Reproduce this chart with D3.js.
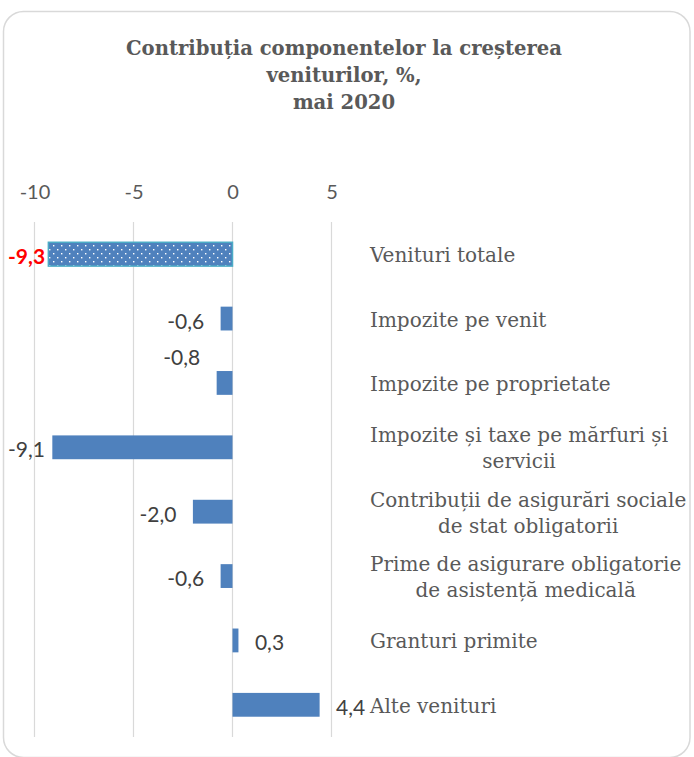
<!DOCTYPE html>
<html>
<head>
<meta charset="utf-8">
<script src="https://cdn.jsdelivr.net/npm/d3@7"></script>
<style>
  html, body { margin: 0; padding: 0; background: #ffffff; }
  svg { display: block; }
</style>
</head>
<body>
<div id="chart"></div>
<script>
// ---- data ----
const titleLines = ["Contribuția componentelor la creșterea", "veniturilor, %,", "mai 2020"];
const categories = [
  ["Venituri totale"],
  ["Impozite pe venit"],
  ["Impozite pe proprietate"],
  ["Impozite și taxe pe mărfuri și", "servicii"],
  ["Contribuții de asigurări sociale", "de stat obligatorii"],
  ["Prime de asigurare obligatorie", "de asistență medicală"],
  ["Granturi primite"],
  ["Alte venituri"]
];
const values = [-9.3, -0.6, -0.8, -9.1, -2.0, -0.6, 0.3, 4.4];
const tickValues = [-10, -5, 0, 5];
const tickLabels = ["-10", "-5", "0", "5"];

// ---- layout ----
const W = 694, H = 757;
const svg = d3.select("#chart").append("svg").attr("width", W).attr("height", H);

const defs = svg.append("defs");
const pat = defs.append("pattern")
  .attr("id", "dots").attr("patternUnits", "userSpaceOnUse")
  .attr("width", 8).attr("height", 8);
pat.append("rect").attr("width", 8).attr("height", 8).attr("fill", "#4f81bd");
pat.append("rect").attr("x", 1).attr("y", 1).attr("width", 1.4).attr("height", 1.4).attr("fill", "#ffffff");
pat.append("rect").attr("x", 5).attr("y", 5).attr("width", 1.4).attr("height", 1.4).attr("fill", "#ffffff");

// chart border
svg.append("rect")
  .attr("x", 3.5).attr("y", 11.5).attr("width", 686.5).attr("height", 746)
  .attr("rx", 20).attr("ry", 20)
  .attr("fill", "#ffffff").attr("stroke", "#d9d9d9").attr("stroke-width", 1.5);

// title
const title = svg.append("text")
  .attr("x", 344).attr("y", 55)
  .attr("text-anchor", "middle")
  .attr("font-family", "'DejaVu Serif', serif")
  .attr("font-weight", "bold")
  .attr("font-size", 19.6)
  .attr("fill", "#595959");
titleLines.forEach((t, i) => {
  title.append("tspan").attr("x", 344).attr("dy", i === 0 ? 0 : 27).text(t);
});

const plotTop = 222, plotBottom = 737;
const x = d3.scaleLinear().domain([-10, 5]).range([34.5, 331.5]);
const y = d3.scaleBand()
  .domain(d3.range(categories.length))
  .range([plotTop, plotBottom])
  .paddingInner(0.63).paddingOuter(0.315);

// gridlines
svg.append("g").selectAll("line").data(tickValues).join("line")
  .attr("x1", d => x(d)).attr("x2", d => x(d))
  .attr("y1", plotTop).attr("y2", plotBottom)
  .attr("stroke", "#d9d9d9").attr("stroke-width", 1.2);

// top axis tick labels
const axis = d3.axisTop(x).tickValues(tickValues)
  .tickFormat((d, i) => tickLabels[i]).tickSize(0).tickPadding(0);
const gAxis = svg.append("g").attr("transform", "translate(0,199)").call(axis);
gAxis.select(".domain").remove();
gAxis.selectAll("text")
  .attr("font-family", "Lato, sans-serif")
  .attr("font-size", 20)
  .attr("fill", "#595959")
  .attr("dy", 0);

// bars
svg.append("g").selectAll("rect").data(values).join("rect")
  .attr("x", d => x(Math.min(0, d)))
  .attr("y", (d, i) => y(i))
  .attr("width", d => Math.abs(x(d) - x(0)))
  .attr("height", y.bandwidth())
  .attr("fill", (d, i) => i === 0 ? "url(#dots)" : "#4f81bd")
  .attr("stroke", (d, i) => i === 0 ? "#4bacc6" : "none")
  .attr("stroke-width", 1.5);

// value labels
const fmt = v => v.toFixed(1).replace(".", ",");
const gap = 16.5;
const minLeft = 8;
const vl = svg.append("g").selectAll("text").data(values).join("text")
  .attr("font-family", "Lato, sans-serif")
  .attr("font-size", 21)
  .attr("font-weight", (d, i) => i === 0 ? "bold" : "normal")
  .attr("fill", (d, i) => i === 0 ? "#ff0000" : "#404040")
  .attr("text-anchor", d => d < 0 ? "end" : "start")
  .attr("x", d => d < 0 ? x(d) - gap : x(d) + gap)
  .attr("y", (d, i) => y(i) + y.bandwidth() / 2 + 10 + (categories[i][0] === "Impozite pe proprietate" ? -28 : 0))
  .text(d => fmt(d));
// keep labels inside the chart area (as the original does)
vl.each(function(d) {
  if (d < 0) {
    const w = this.getComputedTextLength();
    const xr = +this.getAttribute("x");
    if (xr - w < minLeft) this.setAttribute("x", minLeft + w);
  }
});

// category labels (first line left-aligned at 370, other lines centered on the block)
const labelX = 370;
const lineH = 26;
const gLab = svg.append("g");
categories.forEach((lines, i) => {
  const cy = y(i) + y.bandwidth() / 2;
  const t = gLab.append("text")
    .attr("font-family", "'DejaVu Serif', serif")
    .attr("font-size", 20)
    .attr("fill", "#595959")
    .attr("text-anchor", "middle");
  const n = lines.length;
  lines.forEach((ln, j) => {
    t.append("tspan").attr("y", cy + 8 + (j - (n - 1) / 2) * lineH).text(ln);
  });
  let maxW = 0;
  t.selectAll("tspan").each(function() { maxW = Math.max(maxW, this.getComputedTextLength()); });
  t.selectAll("tspan").attr("x", labelX + maxW / 2);
});
</script>
</body>
</html>
